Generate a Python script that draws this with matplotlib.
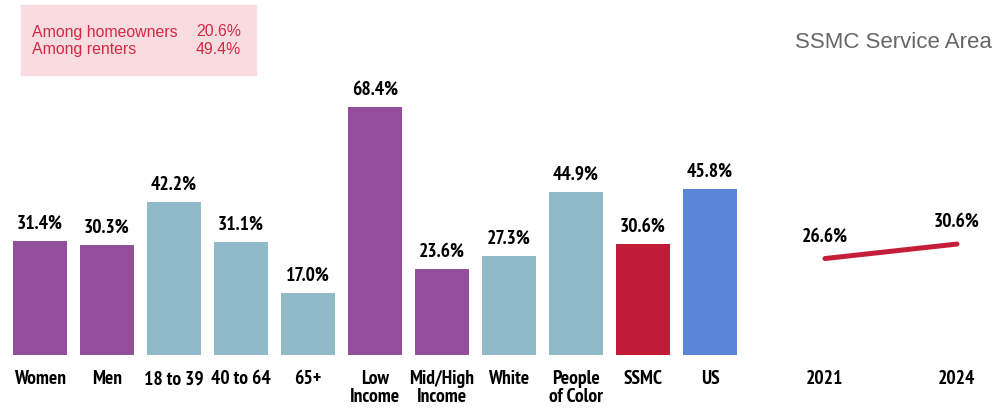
import matplotlib
matplotlib.use("Agg")
from matplotlib import pyplot as plt
from matplotlib import font_manager
from matplotlib.patches import Rectangle

# data
categories = ["Women", "Men", "18 to 39", "40 to 64", "65+", "Low\nIncome",
              "Mid/High\nIncome", "White", "People\nof Color", "SSMC", "US"]
values = [31.4, 30.3, 42.2, 31.1, 17.0, 68.4, 23.6, 27.3, 44.9, 30.6, 45.8]
bar_colors = ["#934f9c", "#934f9c", "#8fbac8", "#8fbac8", "#8fbac8", "#934f9c",
              "#934f9c", "#8fbac8", "#8fbac8", "#c01b37", "#5b85d6"]
years = ["2021", "2024"]
trend = [26.6, 30.6]
tenure_labels = ["Among homeowners", "Among renters"]
tenure_values = ["20.6%", "49.4%"]

# pick a narrow font that has a real bold face (Arial Narrow look-alike)
bold_names = set(f.name for f in font_manager.fontManager.ttflist
                 if (f.weight if isinstance(f.weight, int) else 400) >= 700
                 or f.weight == "bold")
narrow = "DejaVu Sans"
for name in ["Liberation Sans Narrow", "Arial Narrow", "Archivo Narrow",
             "PT Sans Narrow", "Roboto Condensed", "IBM Plex Sans Condensed"]:
    if name in bold_names:
        narrow = name
        break
bold = dict(family=[narrow, "DejaVu Sans"], weight="bold")
have = set(f.name for f in font_manager.fontManager.ttflist)
reg = "Liberation Sans" if "Liberation Sans" in have else "DejaVu Sans"

W, H = 999, 411
fig = plt.figure(figsize=(W / 100, H / 100), dpi=100)

# bar axes: baseline at y=355px, 3.626 px per percent
ymax = 80
ax = fig.add_axes([6.5 / W, 56 / H, 737 / W, ymax * 3.626 / H])
x = list(range(len(categories)))
ax.bar(x, values, width=0.806, color=bar_colors)
ax.set_xlim(-0.5, len(categories) - 0.5)
ax.set_ylim(0, ymax)
for xi, v in zip(x, values):
    ax.text(xi, v + 2.4, f"{v:.1f}%", ha="center", va="bottom", fontsize=14, **bold)
ax.set_xticks(x)
ax.set_xticklabels(categories, fontsize=14, linespacing=0.95, va="top", **bold)
ax.tick_params(axis="x", length=0, pad=11)
ax.set_yticks([])
for s in ax.spines.values():
    s.set_visible(False)

# line axes
ax2 = fig.add_axes([790 / W, 56 / H, 203 / W, ymax * 3.626 / H])
xl = [0, 1]
ax2.plot(xl, trend, color="#c41e3a", lw=3.6, solid_capstyle="round")
ax2.set_xlim(-0.265, 1.273)
ax2.set_ylim(0, ymax)
for xi, v in zip(xl, trend):
    ax2.text(xi, v + 3.6, f"{v:.1f}%", ha="center", va="bottom", fontsize=14, **bold)
ax2.set_xticks(xl)
ax2.set_xticklabels(years, fontsize=14, **bold)
ax2.tick_params(axis="x", length=0, pad=11)
ax2.set_yticks([])
for s in ax2.spines.values():
    s.set_visible(False)

# tenure box
fig.patches.append(Rectangle((21 / W, 1 - 75 / H), 235 / W, 70 / H,
                             transform=fig.transFigure, color="#f8dcdf", zorder=0))
for i, (lab, val) in enumerate(zip(tenure_labels, tenure_values)):
    yy = 1 - (32 + i * 17.5) / H
    fig.text(32 / W, yy, lab, color="#d42a45", fontsize=11.4, family=reg, va="center")
    fig.text(241 / W, yy, val, color="#d42a45", fontsize=11.4, family=reg,
             va="center", ha="right")

fig.text(992 / W, 1 - 43 / H, "SSMC Service Area", color="#666666", fontsize=16,
         family=reg, ha="right", va="center")

fig.savefig("out.png", dpi=100)
